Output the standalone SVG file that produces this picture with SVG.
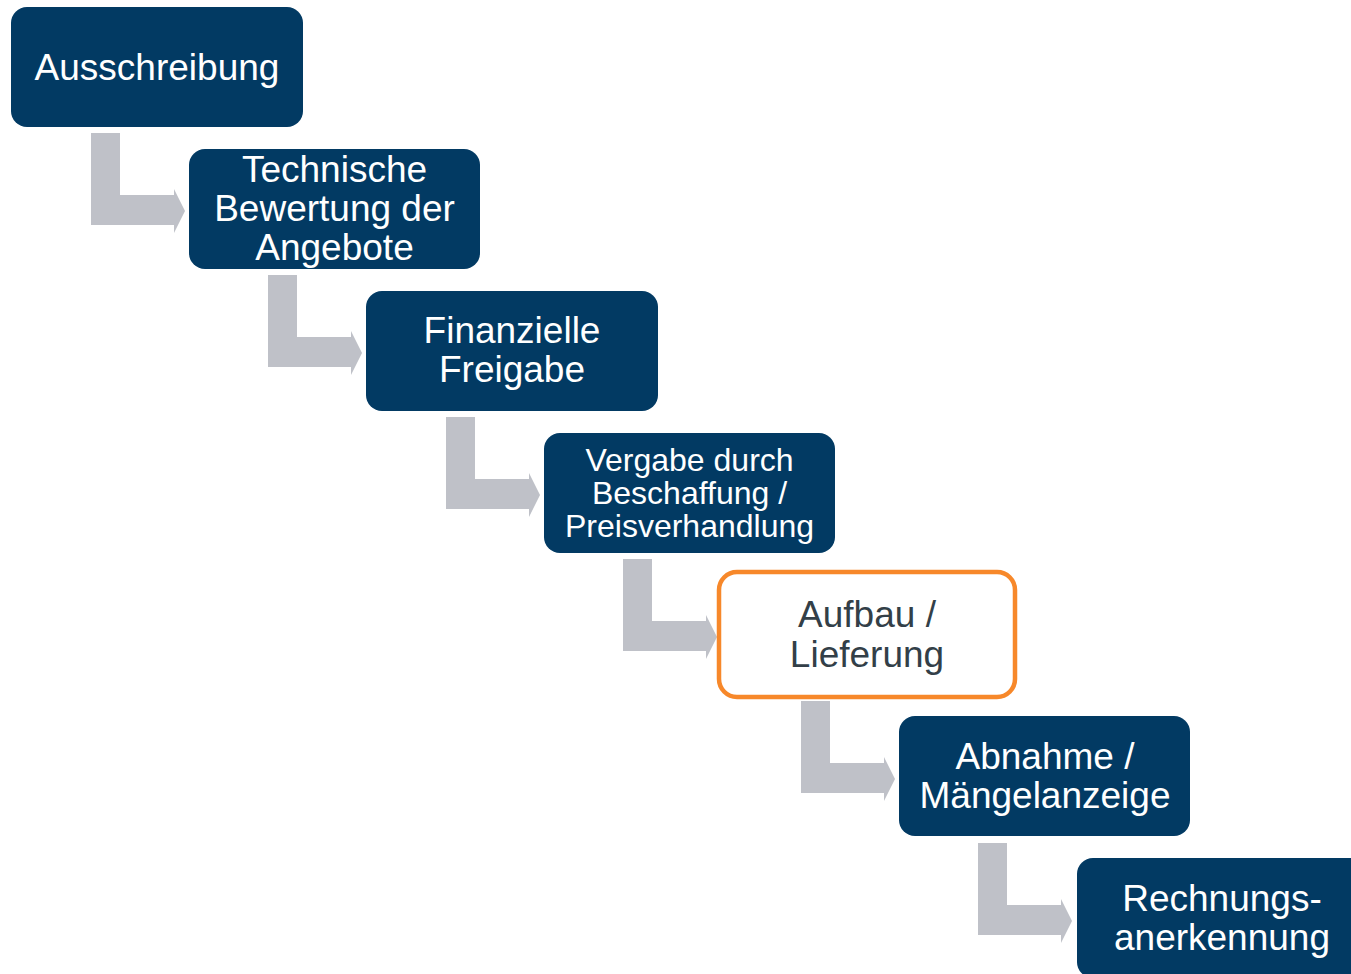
<svg xmlns="http://www.w3.org/2000/svg" xmlns:xlink="http://www.w3.org/1999/xlink" width="1351" height="974" viewBox="0 0 1351 974">
  <style>
    .box { fill: #023A63; }
    .box-hl { fill: #FFFFFF; stroke: #F7882A; stroke-width: 4.5; }
    .lbl { font-family: "Liberation Sans", Arial, sans-serif; font-size: 37px; fill: #FFFFFF; text-anchor: middle; }
    .lbl-sm { font-size: 32px; }
    .lbl-dark { fill: #333F48; }
    .step { fill: #BFC1C8; }
  </style>
  <defs>
    <!-- L-shaped step arrow, origin at top-left of the vertical bar -->
    <path id="stepArrow" class="step" d="M0,0 H29 V62 H83 V56 L94,78 L83,100 V92 H0 Z"/>
  </defs>

  <g id="connectors">
    <use xlink:href="#stepArrow" href="#stepArrow" x="91" y="133"/>
    <use xlink:href="#stepArrow" href="#stepArrow" x="268" y="275"/>
    <use xlink:href="#stepArrow" href="#stepArrow" x="446" y="417"/>
    <use xlink:href="#stepArrow" href="#stepArrow" x="623" y="559"/>
    <use xlink:href="#stepArrow" href="#stepArrow" x="801" y="701"/>
    <use xlink:href="#stepArrow" href="#stepArrow" x="978" y="843"/>
  </g>

  <g id="node-ausschreibung">
    <rect class="box" x="11" y="7" width="292" height="120" rx="16"/>
    <text class="lbl" x="157" y="80">Ausschreibung</text>
  </g>

  <g id="node-technische-bewertung">
    <rect class="box" x="189" y="149" width="291" height="120" rx="16"/>
    <text class="lbl" x="334.5" y="182">Technische</text>
    <text class="lbl" x="334.5" y="221">Bewertung der</text>
    <text class="lbl" x="334.5" y="260">Angebote</text>
  </g>

  <g id="node-finanzielle-freigabe">
    <rect class="box" x="366" y="291" width="292" height="120" rx="16"/>
    <text class="lbl" x="512" y="343">Finanzielle</text>
    <text class="lbl" x="512" y="382">Freigabe</text>
  </g>

  <g id="node-vergabe">
    <rect class="box" x="544" y="433" width="291" height="120" rx="16"/>
    <text class="lbl lbl-sm" x="689.5" y="470.5">Vergabe durch</text>
    <text class="lbl lbl-sm" x="689.5" y="503.5">Beschaffung /</text>
    <text class="lbl lbl-sm" x="689.5" y="536.5">Preisverhandlung</text>
  </g>

  <g id="node-aufbau-lieferung">
    <rect class="box-hl" x="719" y="572" width="296" height="125" rx="18"/>
    <text class="lbl lbl-dark" x="867" y="627">Aufbau /</text>
    <text class="lbl lbl-dark" x="867" y="667">Lieferung</text>
  </g>

  <g id="node-abnahme">
    <rect class="box" x="899" y="716" width="291" height="120" rx="16"/>
    <text class="lbl" x="1045" y="769">Abnahme /</text>
    <text class="lbl" x="1045" y="808">Mängelanzeige</text>
  </g>

  <g id="node-rechnungsanerkennung">
    <rect class="box" x="1077" y="858" width="292" height="120" rx="16"/>
    <text class="lbl" x="1222" y="911">Rechnungs-</text>
    <text class="lbl" x="1222" y="950">anerkennung</text>
  </g>
</svg>
